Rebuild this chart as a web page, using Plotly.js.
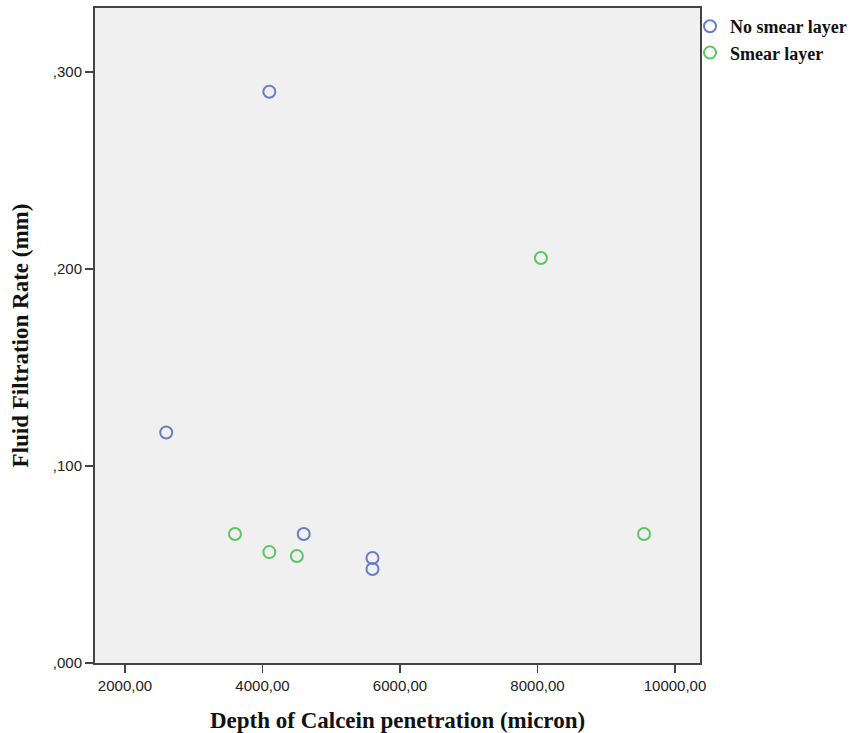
<!DOCTYPE html>
<html>
<head>
<meta charset="utf-8">
<script src="https://cdn.plot.ly/plotly-3.0.1.min.js"></script>
<style>html,body{margin:0;padding:0;background:#fff;}#chart{width:861px;height:733px;}</style>
</head>
<body>
<div id="chart"></div>
<script>
const seriesNames = ["No smear layer", "Smear layer"];
const noSmearX = [4100, 2600, 4600, 5600, 5600];
const noSmearY = [0.290, 0.117, 0.0655, 0.0533, 0.0477];
const smearX = [3600, 4100, 4500, 8050, 9550];
const smearY = [0.0655, 0.0563, 0.0543, 0.2056, 0.0655];
const yTickVals = [0, 0.1, 0.2, 0.3];
const yTickText = [",000", ",100", ",200", ",300"];
const xTickVals = [2000, 4000, 6000, 8000, 10000];

const traces = [
  {x: noSmearX, y: noSmearY, name: seriesNames[0], type: "scatter", mode: "markers",
   marker: {symbol: "circle-open", size: 12, color: "#6a7cc6", line: {width: 2, color: "#6a7cc6"}}},
  {x: smearX, y: smearY, name: seriesNames[1], type: "scatter", mode: "markers",
   marker: {symbol: "circle-open", size: 12, color: "#5ac663", line: {width: 2, color: "#5ac663"}}}
];

const layout = {
  width: 861, height: 733,
  margin: {l: 95, r: 161, t: 8, b: 70},
  paper_bgcolor: "#ffffff",
  plot_bgcolor: "#f0f0f0",
  separators: ",.",
  showlegend: true,
  legend: {x: 0.9835, xanchor: "left", y: 1.0, yanchor: "top", bgcolor: "rgba(0,0,0,0)",
    font: {family: "Liberation Serif, serif", size: 18, color: "#111", weight: "bold"}, itemwidth: 30, tracegroupgap: 0},
  xaxis: {
    range: [1564, 10364], tickvals: xTickVals, tickformat: ".2f",
    ticks: "outside", ticklen: 8, tickwidth: 1.5, tickcolor: "#444",
    showgrid: false, zeroline: false, showline: true, linecolor: "#444", linewidth: 2, mirror: true,
    tickfont: {family: "Liberation Sans, Arial, sans-serif", size: 15, color: "#222"},
    title: {text: "<b>Depth of Calcein penetration (micron)</b>", standoff: 20,
      font: {family: "Liberation Serif, serif", size: 23, color: "#111"}}
  },
  yaxis: {
    range: [0, 0.3325], tickvals: yTickVals, ticktext: yTickText,
    ticks: "outside", ticklen: 8, tickwidth: 1.5, tickcolor: "#444",
    showgrid: false, zeroline: false, showline: true, linecolor: "#444", linewidth: 2, mirror: true,
    tickfont: {family: "Liberation Sans, Arial, sans-serif", size: 15, color: "#222"},
    title: {text: "<b>Fluid Filtration Rate (mm)</b>", standoff: 18,
      font: {family: "Liberation Serif, serif", size: 23, color: "#111"}}
  }
};

Plotly.newPlot("chart", traces, layout, {displayModeBar: false, staticPlot: true});
</script>
</body>
</html>
